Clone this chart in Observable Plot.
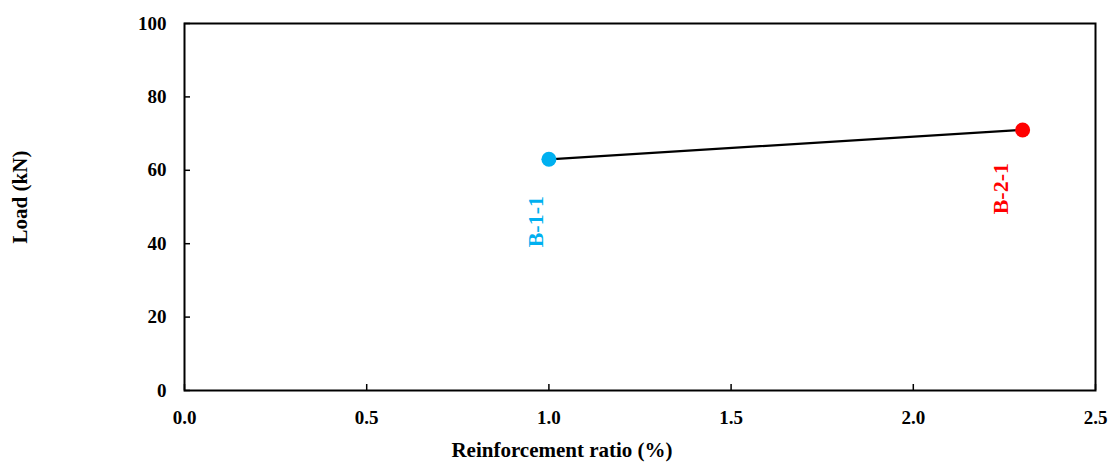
<!DOCTYPE html>
<html>
<head>
<meta charset="utf-8">
<script src="https://cdn.jsdelivr.net/npm/d3@7"></script>
<script src="https://cdn.jsdelivr.net/npm/@observablehq/plot@0.6"></script>
<style>
  html, body { margin: 0; padding: 0; background: #fff; }
  svg { font-family: "Liberation Serif", "Times New Roman", serif; }
</style>
</head>
<body>
<div id="chart"></div>
<script>
const specimens = ["B-1-1", "B-2-1"];
const ratio = [1.0, 2.3];
const load = [63, 71];
const colors = ["#00B0F0", "#FF0000"];
const labelX = [0.965, 2.24];
const labelY = [46, 55];
const xTicks = [0.0, 0.5, 1.0, 1.5, 2.0, 2.5];
const yTicks = [0, 20, 40, 60, 80, 100];
const xTitle = "Reinforcement ratio (%)";
const yTitle = "Load (kN)";

const data = specimens.map((s, i) => ({name: s, x: ratio[i], y: load[i], c: colors[i], lx: labelX[i], ly: labelY[i]}));

const chart = Plot.plot({
  width: 1110,
  height: 462,
  marginLeft: 184,
  marginRight: 15,
  marginTop: 23,
  marginBottom: 72,
  style: {fontFamily: "'Liberation Serif', 'Times New Roman', serif", fontWeight: "bold", fontSize: "19px", color: "#000", background: "#fff"},
  x: {domain: [0, 2.5]},
  y: {domain: [0, 100]},
  marks: [
    Plot.axisX({ticks: xTicks, tickFormat: d3.format(".1f"), tickSize: -6, tickPadding: 26, strokeWidth: 1.5, label: null, fontSize: 19}),
    Plot.axisY({ticks: yTicks, tickSize: -6, tickPadding: 24, strokeWidth: 1.5, label: null, fontSize: 19}),
    Plot.text([xTitle], {text: d => d, frameAnchor: "bottom", textAnchor: "middle", lineAnchor: "middle", dx: -78, dy: 60, fontSize: 21, fontWeight: "bold", fill: "#000"}),
    Plot.text([yTitle], {text: d => d, frameAnchor: "left", textAnchor: "middle", lineAnchor: "middle", rotate: -90, dx: -164, dy: -10, fontSize: 21, fontWeight: "bold", fill: "#000"}),
    Plot.frame({stroke: "#000", strokeWidth: 2}),
    Plot.line(data, {x: "x", y: "y", stroke: "#000", strokeWidth: 2.3}),
    Plot.dot(data, {x: "x", y: "y", r: 7.5, fill: "c", stroke: "none"}),
    Plot.text(data, {x: "lx", y: "ly", text: "name", fill: "c", rotate: -90, fontSize: 22, fontWeight: "bold"})
  ]
});
document.getElementById("chart").appendChild(chart);
</script>
</body>
</html>
